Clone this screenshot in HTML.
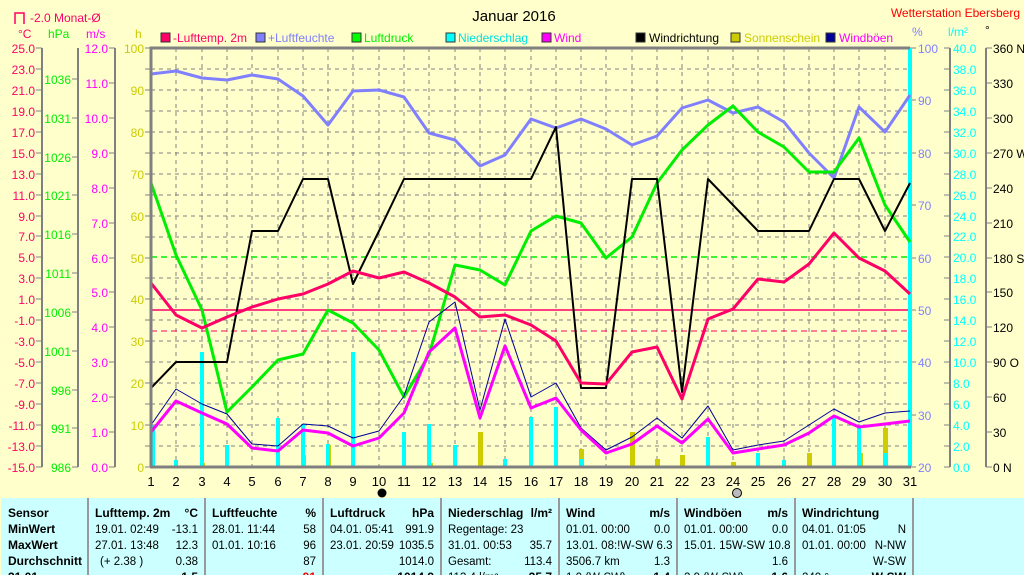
<!DOCTYPE html>
<html><head><meta charset="utf-8"><style>
html,body{margin:0;padding:0;background:#ffffcc;}
svg{display:block;font-family:"Liberation Sans",sans-serif;font-size:12px;}
</style></head><body>
<svg width="1024" height="575" viewBox="0 0 1024 575" xmlns="http://www.w3.org/2000/svg">
<rect x="0" y="0" width="1024" height="575" fill="#ffffcc"/>
<text x="514" y="21" text-anchor="middle" font-size="15" fill="#000">Januar 2016</text>
<text x="1020" y="17" text-anchor="end" fill="#ff0000">Wetterstation Ebersberg</text>
<path d="M15,24 V13 H24 V24" fill="none" stroke="#ff0066" stroke-width="1.5"/>
<text x="30" y="22" fill="#ff0066">-2.0 Monat-Ø</text>
<text x="18" y="38" fill="#ff0066">°C</text>
<text x="48" y="38" fill="#00ee00">hPa</text>
<text x="86" y="38" fill="#ff00ff">m/s</text>
<text x="135" y="38" fill="#cccc00">h</text>
<text x="912" y="36" fill="#8080ff">%</text>
<text x="948" y="36" fill="#00ffff">l/m²</text>
<text x="985" y="34" fill="#000">°</text>
<g font-size="12">
<rect x="161" y="33" width="9" height="9" fill="#ff0066" stroke="#333"/><text x="173" y="42" fill="#ff0066">-Lufttemp. 2m</text>
<rect x="256" y="33" width="9" height="9" fill="#8080ff" stroke="#333"/><text x="268" y="42" fill="#8080ff">+Luftfeuchte</text>
<rect x="352" y="33" width="9" height="9" fill="#00ff00" stroke="#333"/><text x="364" y="42" fill="#00ee00">Luftdruck</text>
<rect x="446" y="33" width="9" height="9" fill="#00ffff" stroke="#333"/><text x="458" y="42" fill="#00e0e0">Niederschlag</text>
<rect x="542" y="33" width="9" height="9" fill="#ff00ff" stroke="#333"/><text x="554" y="42" fill="#ff00ff">Wind</text>
<rect x="636" y="33" width="9" height="9" fill="#000" stroke="#333"/><text x="649" y="42" fill="#000">Windrichtung</text>
<rect x="731" y="33" width="9" height="9" fill="#cccc00" stroke="#333"/><text x="744" y="42" fill="#cccc00">Sonnenschein</text>
<rect x="826" y="33" width="9" height="9" fill="#000099" stroke="#333"/><text x="839" y="42" fill="#ff00ff">Windböen</text>
</g>
<g stroke="#808080" stroke-width="2">
<line x1="42" y1="48" x2="42" y2="467"/><line x1="78" y1="48" x2="78" y2="467"/><line x1="115" y1="48" x2="115" y2="467"/>
<line x1="950" y1="48" x2="950" y2="467"/><line x1="986" y1="48" x2="986" y2="467"/>
</g>
<g stroke="#808080" stroke-width="1">
<path d="M36,48h6M36,69h6M36,90h6M36,111h6M36,132h6M36,153h6M36,174h6M36,195h6M36,216h6M36,236h6M36,257h6M36,278h6M36,299h6M36,320h6M36,341h6M36,362h6M36,383h6M36,404h6M36,425h6M36,446h6M36,467h6"/>
<path d="M72,79h6M72,118h6M72,157h6M72,195h6M72,234h6M72,273h6M72,312h6M72,351h6M72,390h6M72,428h6M72,467h6"/>
<path d="M109,48h6M109,83h6M109,118h6M109,153h6M109,188h6M109,223h6M109,258h6M109,292h6M109,327h6M109,362h6M109,397h6M109,432h6M109,467h6"/>
<path d="M145,48h6M145,69h6M145,90h6M145,111h6M145,132h6M145,153h6M145,174h6M145,195h6M145,216h6M145,237h6M145,258h6M145,278h6M145,299h6M145,320h6M145,341h6M145,362h6M145,383h6M145,404h6M145,425h6M145,446h6M145,467h6"/>
<path d="M910,48h6M910,100h6M910,153h6M910,205h6M910,258h6M910,310h6M910,362h6M910,415h6M910,467h6"/>
<path d="M944,48h6M944,69h6M944,90h6M944,111h6M944,132h6M944,153h6M944,174h6M944,195h6M944,216h6M944,236h6M944,257h6M944,278h6M944,299h6M944,320h6M944,341h6M944,362h6M944,383h6M944,404h6M944,425h6M944,446h6M944,467h6"/>
<path d="M986,48h6M986,83h6M986,118h6M986,153h6M986,188h6M986,223h6M986,258h6M986,292h6M986,327h6M986,362h6M986,397h6M986,432h6M986,467h6"/>
</g>
<g fill="#ff0066" text-anchor="end">
<text x="35" y="53">25.0</text><text x="35" y="74">23.0</text><text x="35" y="95">21.0</text><text x="35" y="116">19.0</text><text x="35" y="137">17.0</text><text x="35" y="158">15.0</text><text x="35" y="179">13.0</text><text x="35" y="200">11.0</text><text x="35" y="221">9.0</text><text x="35" y="241">7.0</text><text x="35" y="262">5.0</text><text x="35" y="283">3.0</text><text x="35" y="304">1.0</text><text x="35" y="325">-1.0</text><text x="35" y="346">-3.0</text><text x="35" y="367">-5.0</text><text x="35" y="388">-7.0</text><text x="35" y="409">-9.0</text><text x="35" y="430">-11.0</text><text x="35" y="451">-13.0</text><text x="35" y="472">-15.0</text>
</g>
<g fill="#00ee00" text-anchor="end">
<text x="71" y="84">1036</text><text x="71" y="123">1031</text><text x="71" y="162">1026</text><text x="71" y="200">1021</text><text x="71" y="239">1016</text><text x="71" y="278">1011</text><text x="71" y="317">1006</text><text x="71" y="356">1001</text><text x="71" y="395">996</text><text x="71" y="433">991</text><text x="71" y="472">986</text>
</g>
<g fill="#ff00ff" text-anchor="end">
<text x="108" y="53">12.0</text><text x="108" y="88">11.0</text><text x="108" y="123">10.0</text><text x="108" y="158">9.0</text><text x="108" y="193">8.0</text><text x="108" y="228">7.0</text><text x="108" y="263">6.0</text><text x="108" y="297">5.0</text><text x="108" y="332">4.0</text><text x="108" y="367">3.0</text><text x="108" y="402">2.0</text><text x="108" y="437">1.0</text><text x="108" y="472">0.0</text>
</g>
<g fill="#cccc00" text-anchor="end">
<text x="144" y="53">100</text><text x="144" y="95">90</text><text x="144" y="137">80</text><text x="144" y="179">70</text><text x="144" y="221">60</text><text x="144" y="263">50</text><text x="144" y="304">40</text><text x="144" y="346">30</text><text x="144" y="388">20</text><text x="144" y="430">10</text><text x="144" y="472">0</text>
</g>
<g fill="#8080ff">
<text x="918" y="53">100</text><text x="918" y="105">90</text><text x="918" y="158">80</text><text x="918" y="210">70</text><text x="918" y="263">60</text><text x="918" y="315">50</text><text x="918" y="367">40</text><text x="918" y="420">30</text><text x="918" y="472">20</text>
</g>
<g fill="#00ffff">
<text x="953" y="53">40.0</text><text x="953" y="74">38.0</text><text x="953" y="95">36.0</text><text x="953" y="116">34.0</text><text x="953" y="137">32.0</text><text x="953" y="158">30.0</text><text x="953" y="179">28.0</text><text x="953" y="200">26.0</text><text x="953" y="221">24.0</text><text x="953" y="241">22.0</text><text x="953" y="262">20.0</text><text x="953" y="283">18.0</text><text x="953" y="304">16.0</text><text x="953" y="325">14.0</text><text x="953" y="346">12.0</text><text x="953" y="367">10.0</text><text x="953" y="388">8.0</text><text x="953" y="409">6.0</text><text x="953" y="430">4.0</text><text x="953" y="451">2.0</text><text x="953" y="472">0.0</text>
</g>
<g fill="#000">
<text x="993" y="53">360 N</text><text x="993" y="88">330</text><text x="993" y="123">300</text><text x="993" y="158">270 W</text><text x="993" y="193">240</text><text x="993" y="228">210</text><text x="993" y="263">180 S</text><text x="993" y="297">150</text><text x="993" y="332">120</text><text x="993" y="367">90 O</text><text x="993" y="402">60</text><text x="993" y="437">30</text><text x="993" y="472">0 N</text>
</g>
<g stroke="#808080" stroke-width="1" stroke-dasharray="4,4">
<path d="M151,69H910M151,90H910M151,111H910M151,132H910M151,153H910M151,174H910M151,195H910M151,216H910M151,237H910M151,278H910M151,299H910M151,320H910M151,341H910M151,362H910M151,383H910M151,404H910M151,425H910M151,446H910"/>
<path d="M176,48V467M202,48V467M227,48V467M252,48V467M278,48V467M303,48V467M328,48V467M353,48V467M379,48V467M404,48V467M429,48V467M455,48V467M480,48V467M505,48V467M531,48V467M556,48V467M581,48V467M606,48V467M632,48V467M657,48V467M682,48V467M708,48V467M733,48V467M758,48V467M784,48V467M809,48V467M834,48V467M859,48V467M885,48V467"/>
</g>
<line x1="151" y1="257" x2="910" y2="257" stroke="#00ee00" stroke-width="1.5" stroke-dasharray="6,4"/>
<line x1="151" y1="310" x2="910" y2="310" stroke="#ff0066" stroke-width="1.5"/>
<line x1="151" y1="331" x2="910" y2="331" stroke="#ff0066" stroke-width="1" stroke-dasharray="6,4"/>
<g fill="#cccc00">
<rect x="200" y="463" width="5" height="4"/><rect x="301" y="455" width="5" height="12"/><rect x="326" y="445" width="5" height="22"/><rect x="428" y="463" width="5" height="4"/><rect x="478" y="432" width="5" height="35"/><rect x="579" y="449" width="5" height="18"/><rect x="630" y="432" width="5" height="35"/><rect x="655" y="459" width="5" height="8"/><rect x="680" y="455" width="5" height="12"/><rect x="731" y="462" width="5" height="5"/><rect x="807" y="453" width="5" height="14"/><rect x="858" y="453" width="5" height="14"/><rect x="883" y="428" width="5" height="39"/>
</g>
<g fill="#00ffff">
<rect x="151" y="425" width="4" height="42"/><rect x="174" y="460" width="4" height="7"/><rect x="200" y="352" width="4" height="115"/><rect x="225" y="445" width="4" height="22"/><rect x="276" y="418" width="4" height="49"/><rect x="301" y="424" width="4" height="43"/><rect x="326" y="444" width="4" height="23"/><rect x="351" y="352" width="4" height="115"/><rect x="402" y="432" width="4" height="35"/><rect x="427" y="424" width="4" height="43"/><rect x="453" y="445" width="4" height="22"/><rect x="503" y="459" width="4" height="8"/><rect x="529" y="417" width="4" height="50"/><rect x="554" y="407" width="4" height="60"/><rect x="579" y="459" width="4" height="8"/><rect x="706" y="437" width="4" height="30"/><rect x="756" y="453" width="4" height="14"/><rect x="782" y="460" width="4" height="7"/><rect x="832" y="418" width="4" height="49"/><rect x="857" y="425" width="4" height="42"/><rect x="883" y="453" width="4" height="14"/><rect x="908" y="48" width="4" height="419"/>
</g>
<g fill="none" stroke-linejoin="round">
<polyline stroke="#8080ff" stroke-width="3" points="151,74 176,71 202,78 227,80 252,75 278,79 303,96 328,125 353,91 379,90 404,97 429,133 455,140 480,166 505,155 531,119 556,128 581,119 606,129 632,145 657,136 682,108 708,100 733,113 758,107 784,122 809,153 834,178 859,107 885,132 910,95"/>
<polyline stroke="#00ee00" stroke-width="3" points="151,183 176,255 202,310 227,412 252,387 278,360 303,354 328,310 353,323 379,350 404,397 429,355 455,265 480,270 505,285 531,231 556,216 581,223 606,258 632,237 657,183 682,150 708,125 733,106 758,132 784,147 809,172 834,172 859,138 885,205 910,242"/>
<polyline stroke="#000" stroke-width="2" points="151,388 176,362 202,362 227,362 252,231 278,231 303,179 328,179 353,284 379,231 404,179 429,179 455,179 480,179 505,179 531,179 556,127 581,388 606,388 632,179 657,179 682,392 708,179 733,205 758,231 784,231 809,231 834,179 859,179 885,231 910,183"/>
<polyline stroke="#ff0066" stroke-width="3" points="151,283 176,315 202,328 227,317 252,307 278,299 303,294 328,284 353,271 379,278 404,272 429,283 455,297 480,317 505,315 531,325 556,341 581,383 606,384 632,352 657,347 682,399 708,319 733,309 758,279 784,282 809,264 834,233 859,258 885,271 910,294"/>
<polyline stroke="#000099" stroke-width="1" points="151,425 176,389 202,404 227,414 252,444 278,446 303,424 328,426 353,438 379,431 404,396 429,322 455,302 480,410 505,319 531,397 556,383 581,428 606,450 632,437 657,418 682,438 708,406 733,450 758,445 784,441 809,425 834,409 859,422 885,413 910,411"/>
<polyline stroke="#ff00ff" stroke-width="3" points="151,432 176,401 202,413 227,424 252,448 278,451 303,430 328,433 353,446 379,438 404,413 429,352 455,328 480,418 505,346 531,408 556,398 581,430 606,453 632,444 657,426 682,443 708,419 733,453 758,449 784,445 809,433 834,416 859,427 885,424 910,421"/>
</g>
<path d="M151,467V48H910" fill="none" stroke="#808080" stroke-width="3"/>
<line x1="150" y1="467" x2="911" y2="467" stroke="#808080" stroke-width="3"/>
<g fill="#000" font-size="13" text-anchor="middle">
<text x="151" y="486">1</text><text x="176" y="486">2</text><text x="202" y="486">3</text><text x="227" y="486">4</text><text x="252" y="486">5</text><text x="278" y="486">6</text><text x="303" y="486">7</text><text x="328" y="486">8</text><text x="353" y="486">9</text><text x="379" y="486">10</text><text x="404" y="486">11</text><text x="429" y="486">12</text><text x="455" y="486">13</text><text x="480" y="486">14</text><text x="505" y="486">15</text><text x="531" y="486">16</text><text x="556" y="486">17</text><text x="581" y="486">18</text><text x="606" y="486">19</text><text x="632" y="486">20</text><text x="657" y="486">21</text><text x="682" y="486">22</text><text x="708" y="486">23</text><text x="733" y="486">24</text><text x="758" y="486">25</text><text x="784" y="486">26</text><text x="809" y="486">27</text><text x="834" y="486">28</text><text x="859" y="486">29</text><text x="885" y="486">30</text><text x="910" y="486">31</text>
</g>
<circle cx="382" cy="493" r="4.5" fill="#000"/>
<circle cx="737" cy="493" r="4.5" fill="#bbb" stroke="#000"/>
<rect x="1" y="498" width="1023" height="77" fill="#ccffff"/>
<g stroke="#999" stroke-width="2"><path d="M88,498V575M205,498V575M323,498V575M441,498V575M559,498V575M677,498V575M795,498V575M913,498V575"/></g>
<g fill="#000" font-size="11.5">
<g font-weight="bold" font-size="12">
<text x="8" y="517">Sensor</text><text x="8" y="533">MinWert</text><text x="8" y="549">MaxWert</text><text x="8" y="565">Durchschnitt</text><text x="8" y="581">31.01.</text>
<text x="95" y="517">Lufttemp. 2m</text><text x="198" y="517" text-anchor="end">°C</text>
<text x="212" y="517">Luftfeuchte</text><text x="316" y="517" text-anchor="end">%</text>
<text x="330" y="517">Luftdruck</text><text x="434" y="517" text-anchor="end">hPa</text>
<text x="448" y="517">Niederschlag</text><text x="552" y="517" text-anchor="end">l/m²</text>
<text x="566" y="517">Wind</text><text x="670" y="517" text-anchor="end">m/s</text>
<text x="684" y="517">Windböen</text><text x="788" y="517" text-anchor="end">m/s</text>
<text x="802" y="517">Windrichtung</text>
<text x="198" y="581" text-anchor="end">-1.5</text><text x="434" y="581" text-anchor="end">1014.9</text><text x="552" y="581" text-anchor="end">35.7</text><text x="670" y="581" text-anchor="end">1.4</text><text x="788" y="581" text-anchor="end">1.6</text><text x="906" y="581" text-anchor="end">W-SW</text>
<text x="316" y="581" text-anchor="end" fill="#ff0000">91</text>
</g>
<text x="95" y="533">19.01.  02:49</text><text x="198" y="533" text-anchor="end">-13.1</text>
<text x="95" y="549">27.01.  13:48</text><text x="198" y="549" text-anchor="end">12.3</text>
<text x="100" y="565">(+ 2.38 )</text><text x="198" y="565" text-anchor="end">0.38</text>
<text x="212" y="533">28.01.  11:44</text><text x="316" y="533" text-anchor="end">58</text>
<text x="212" y="549">01.01.  10:16</text><text x="316" y="549" text-anchor="end">96</text>
<text x="316" y="565" text-anchor="end">87</text>
<text x="330" y="533">04.01.  05:41</text><text x="434" y="533" text-anchor="end">991.9</text>
<text x="330" y="549">23.01.  20:59</text><text x="434" y="549" text-anchor="end">1035.5</text>
<text x="434" y="565" text-anchor="end">1014.0</text>
<text x="448" y="533">Regentage: 23</text>
<text x="448" y="549">31.01.  00:53</text><text x="552" y="549" text-anchor="end">35.7</text>
<text x="448" y="565">Gesamt:</text><text x="552" y="565" text-anchor="end">113.4</text>
<text x="448" y="581">113.4 l/m²</text>
<text x="566" y="533">01.01.  00:00</text><text x="670" y="533" text-anchor="end">0.0</text>
<text x="566" y="549">13.01.  08:!W-SW 6.3</text>
<text x="566" y="565">3506.7 km</text><text x="670" y="565" text-anchor="end">1.3</text>
<text x="566" y="581">1.0 (W-SW)</text>
<text x="684" y="533">01.01.  00:00</text><text x="788" y="533" text-anchor="end">0.0</text>
<text x="684" y="549">15.01.  15W-SW 10.8</text>
<text x="788" y="565" text-anchor="end">1.6</text>
<text x="684" y="581">2.9 (W-SW)</text>
<text x="802" y="533">04.01.  01:05</text><text x="906" y="533" text-anchor="end">N</text>
<text x="802" y="549">01.01.  00:00</text><text x="906" y="549" text-anchor="end">N-NW</text>
<text x="906" y="565" text-anchor="end">W-SW</text>
<text x="802" y="581">240 °</text>
</g>
</svg>
</body></html>
